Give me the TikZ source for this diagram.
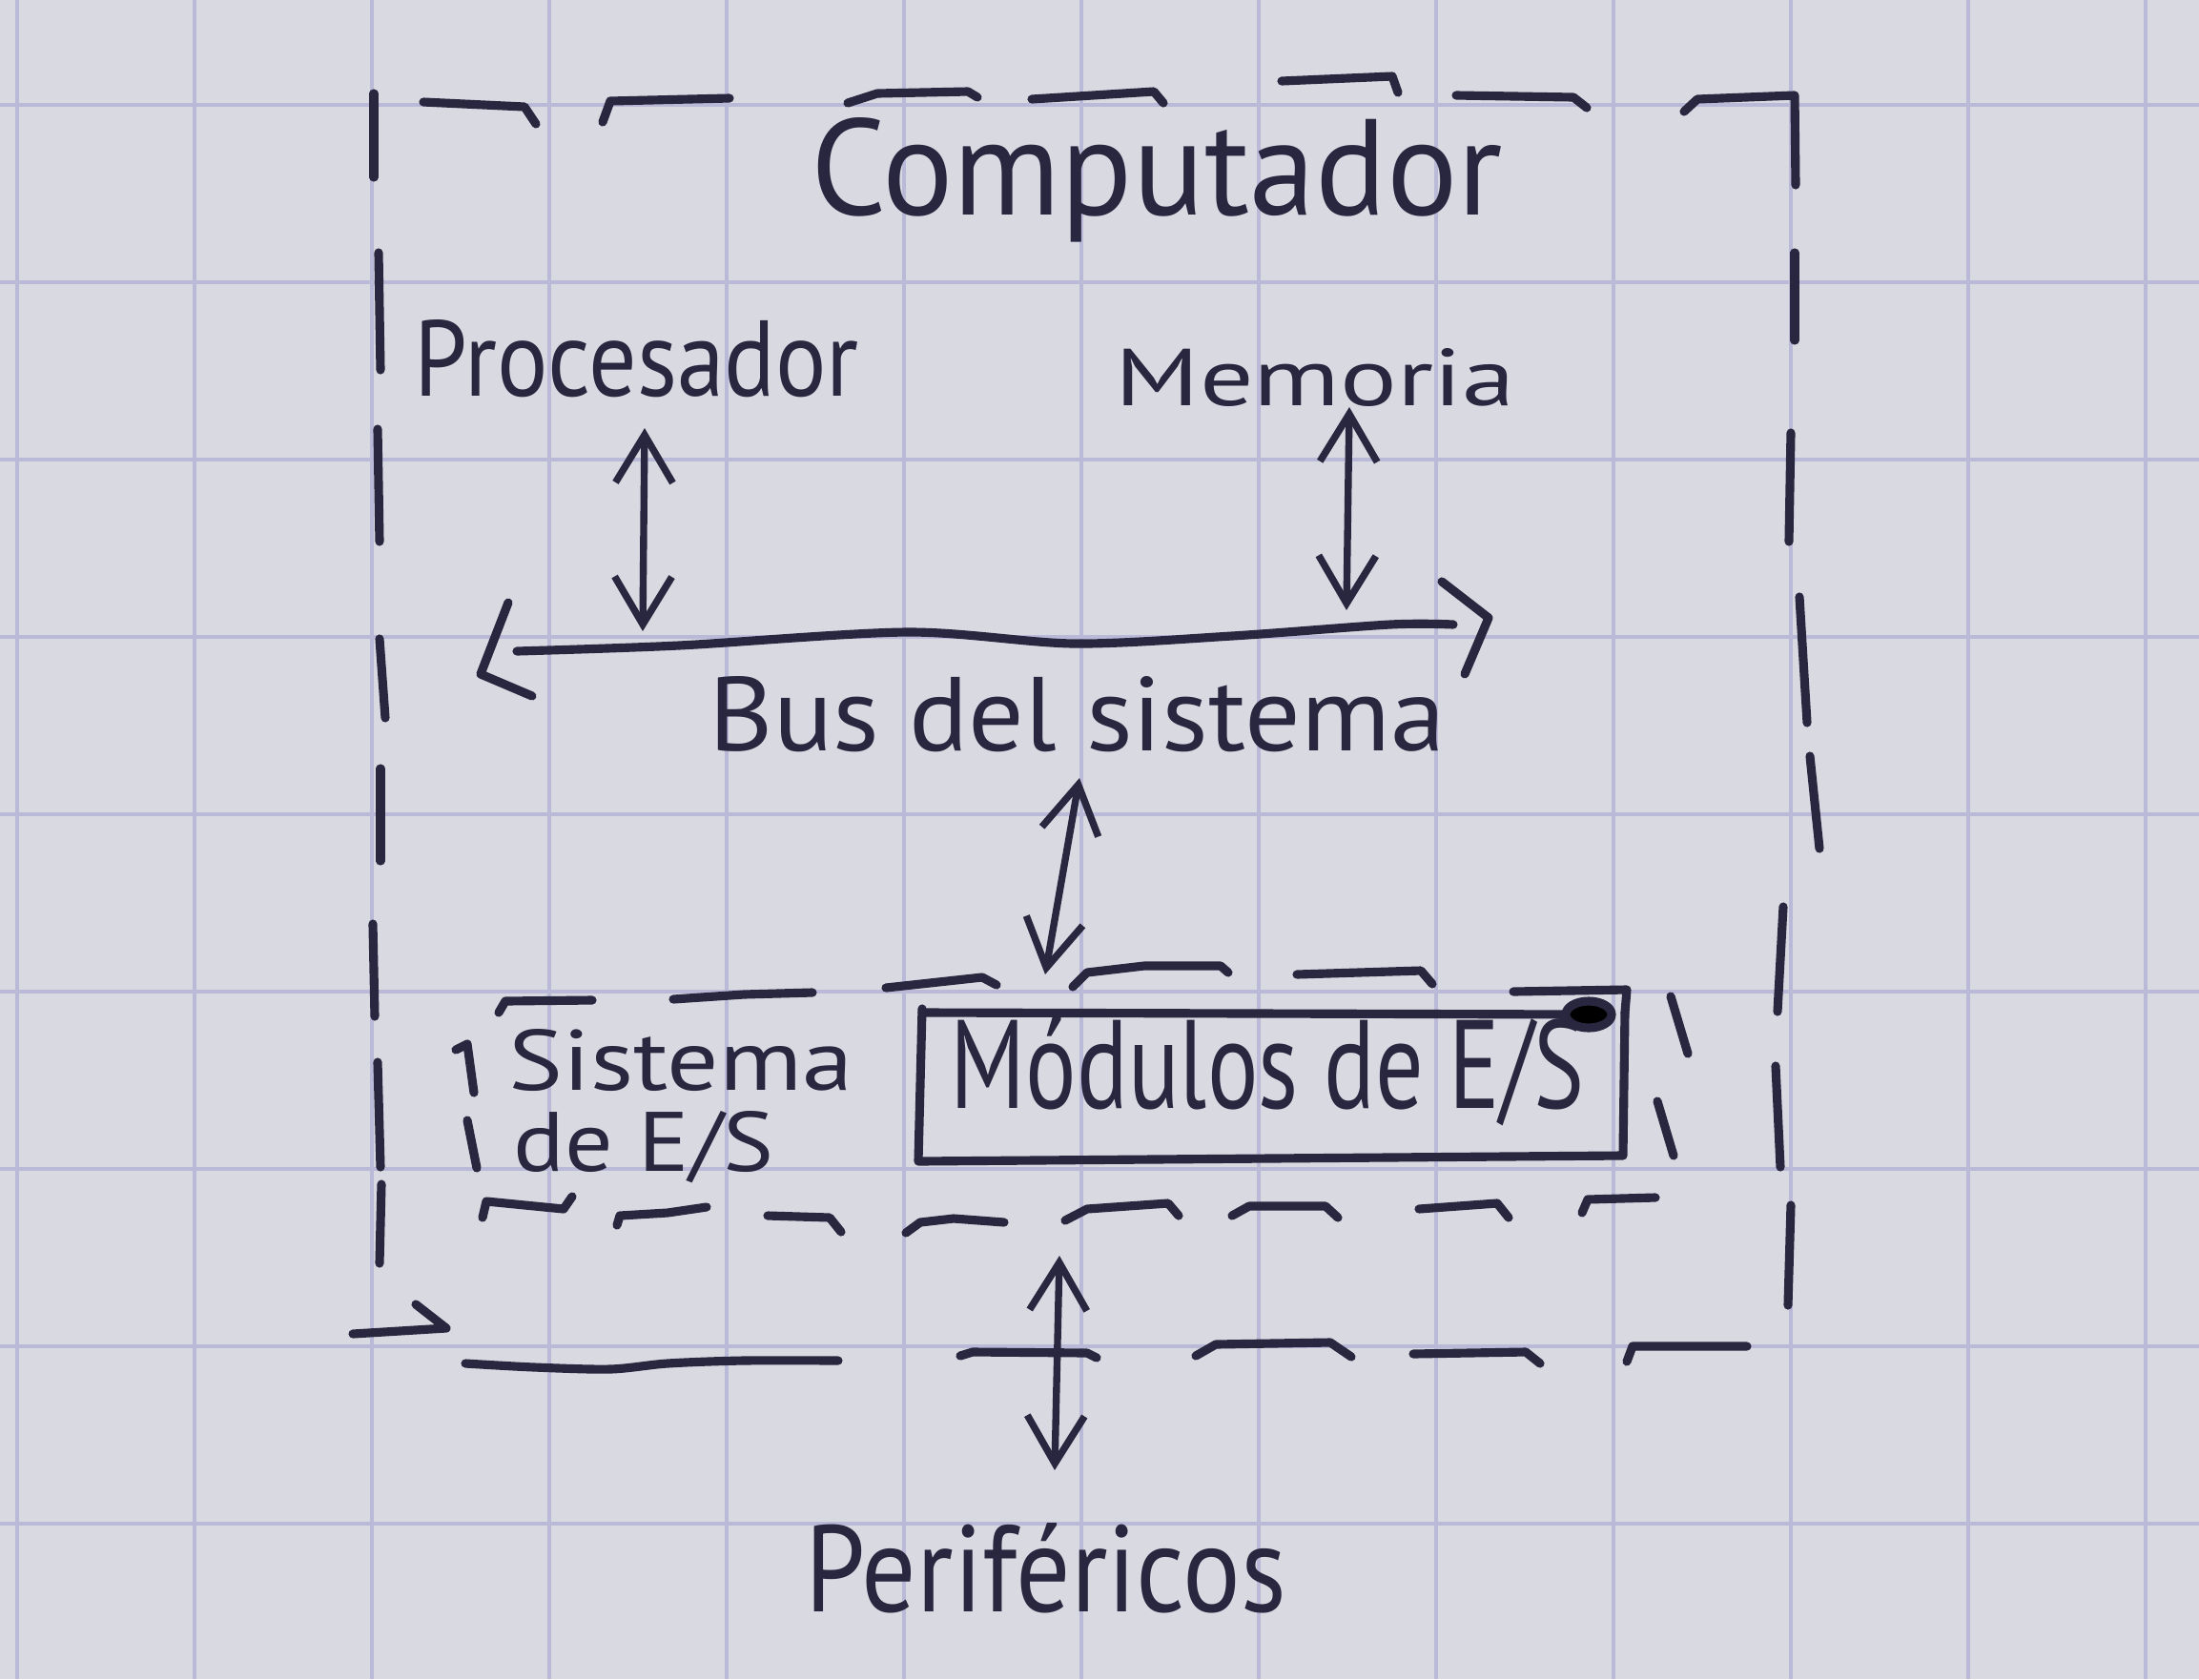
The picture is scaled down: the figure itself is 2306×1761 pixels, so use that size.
\documentclass[tikz,border=0pt]{standalone}
\usepackage{fontspec}
\usepackage{graphicx}
\setmainfont{PT Sans}
\usetikzlibrary{arrows.meta}
\definecolor{paper}{HTML}{D9D9E2}
\definecolor{gridc}{HTML}{BABAD8}
\definecolor{ink}{HTML}{29263F}
\newcommand{\hw}[3]{\resizebox{#1mm}{#2mm}{#3}}
\tikzset{
  ink/.style={draw=ink, line width=2.6pt, line cap=round, line join=round},
  thinink/.style={draw=ink, line width=2.1pt, line cap=round, line join=round},
  gridline/.style={draw=gridc, line width=1pt},
  lbl/.style={inner sep=0pt, anchor=base west, text=ink},
  dbl/.style={thinink, {Straight Barb[length=5mm,width=6mm]}-{Straight Barb[length=5mm,width=6mm]}}
}
\begin{document}
\begin{tikzpicture}[x=0.1mm, y=-0.1mm]
\useasboundingbox (0,0) rectangle (2306,1761);
\fill[paper] (0,0) rectangle (2306,1761);
% graph paper
\foreach \x in {18,204,...,2250} \draw[gridline] (\x,0) -- (\x,1761);
\foreach \y in {110,296,...,1598} \draw[gridline] (0,\y) -- (2306,\y);

% ---------- labels ----------
\node[lbl] (comp) at (850,225) {\hw{72.5}{10.2}{Computador}};
\node[lbl] (proc) at (434,415) {\hw{46.6}{8.0}{Procesador}};
\node[lbl] (mem)  at (1169,425) {\hw{41.9}{6.0}{Memoria}};
\node[lbl] (bus)  at (743,787) {\hw{77.2}{7.8}{Bus del sistema}};
\node[lbl] (sis1) at (533,1143) {\hw{36.1}{6.4}{Sistema}};
\node[lbl] (sis2) at (538,1228) {\hw{27.3}{6.3}{de E/S}};
\node[lbl] (mod)  at (996,1162) {\hw{66.5}{9.5}{Módulos de E/S}};
\node[lbl] (per)  at (844,1690) {\hw{50.4}{9.3}{Periféricos}};

% ---------- outer dashed box (Computador) ----------
% top edge
\draw[ink] (444,107) -- (550,112) -- (562,130);
\draw[ink] (632,128) -- (640,106) -- (765,103);
\draw[ink] (889,108) -- (920,98) -- (1015,96) -- (1025,102);
\draw[ink] (1082,104) -- (1210,96) -- (1220,108);
\draw[ink] (1344,85) -- (1460,80) -- (1466,97);
\draw[ink] (1527,100) -- (1650,102) -- (1664,113);
\draw[ink] (1766,117) -- (1780,104) -- (1882,100) -- (1883,194);
% right edge
\draw[ink] (1882,265) -- (1882,357);
\draw[ink] (1878,454) -- (1876,568);
\draw[ink] (1887,626) -- (1895,758);
\draw[ink] (1898,793) -- (1908,890);
\draw[ink] (1870,951) -- (1864,1061);
\draw[ink] (1862,1118) -- (1867,1224);
\draw[ink] (1878,1264) -- (1875,1369);
% left edge
\draw[ink] (392,98) -- (392,186);
\draw[ink] (397,265) -- (399,388);
\draw[ink] (396,450) -- (398,568);
\draw[ink] (398,670) -- (404,753);
\draw[ink] (399,806) -- (399,903);
\draw[ink] (391,969) -- (393,1066);
\draw[ink] (396,1114) -- (399,1224);
\draw[ink] (400,1242) -- (398,1325);
% bottom left stroke
\draw[ink] (370,1399) -- (468,1393) -- (436,1368);
% bottom edge
\draw[ink] plot[smooth] coordinates {(488,1430) (560,1434) (640,1436) (700,1430) (780,1427) (879,1427)};
\draw[ink] (1007,1422) -- (1020,1418) -- (1140,1419) -- (1150,1424);
\draw[ink] (1254,1422) -- (1275,1410) -- (1395,1408) -- (1417,1423);
\draw[ink] (1482,1420) -- (1600,1418) -- (1615,1430);
\draw[ink] (1706,1428) -- (1712,1412) -- (1832,1412);

% ---------- inner dashed box (Sistema de E/S) ----------
% top
\draw[ink] (523,1062) -- (530,1050) -- (621,1049);
\draw[ink] (706,1048) -- (780,1043) -- (852,1041);
\draw[ink] (929,1036) -- (1030,1025) -- (1045,1033);
\draw[ink] (1125,1035) -- (1140,1020) -- (1200,1013) -- (1280,1013) -- (1288,1020);
\draw[ink] (1360,1022) -- (1490,1018) -- (1502,1032);
\draw[ink] (1587,1040) -- (1706,1038) -- (1704,1062);
% right
\draw[ink] (1752,1045) -- (1770,1105);
\draw[ink] (1738,1155) -- (1755,1212);
% left
\draw[ink] (478,1101) -- (490,1095) -- (497,1146);
\draw[ink] (490,1175) -- (500,1225);
% bottom
\draw[ink] (506,1277) -- (510,1260) -- (591,1268) -- (600,1255);
\draw[ink] (647,1285) -- (650,1275) -- (700,1272) -- (741,1266);
\draw[ink] (805,1275) -- (870,1277) -- (882,1292);
\draw[ink] (950,1293) -- (965,1282) -- (1000,1278) -- (1053,1282);
\draw[ink] (1117,1280) -- (1140,1268) -- (1225,1262) -- (1236,1275);
\draw[ink] (1292,1275) -- (1310,1265) -- (1390,1265) -- (1403,1277);
\draw[ink] (1488,1268) -- (1570,1262) -- (1582,1277);
\draw[ink] (1659,1272) -- (1665,1258) -- (1736,1256);

% ---------- Modulos de E/S box ----------
\draw[ink] (967,1062) -- (1668,1064);
\draw[ink] (1704,1062) -- (1702,1212) -- (963,1218) -- (967,1058);
\fill[ink] (1666,1064) ellipse (24 and 14);

% ---------- bus ----------
\draw[ink] plot[smooth] coordinates {(542,683) (712,677) (952,663) (1126,675) (1292,667) (1458,655) (1524,655)};
\draw[ink] (533,632) -- (504,707) -- (558,730);
\draw[ink] (1512,610) -- (1561,648) -- (1536,707);

% ---------- arrows ----------
\coordinate (procA) at (676,449);
\coordinate (procB) at (674,662);
\coordinate (memA)  at (1415,427);
\coordinate (memB)  at (1412,640);
\coordinate (busA)  at (1132,816);
\coordinate (busB)  at (1096,1022);
\coordinate (perA)  at (1111,1317);
\coordinate (perB)  at (1106,1542);
\draw[dbl] (procA) -- (procB);
\draw[dbl] (memA) -- (memB);
\draw[dbl] (busA) -- (busB);
\draw[dbl] (perA) -- (perB);
\end{tikzpicture}
\end{document}
